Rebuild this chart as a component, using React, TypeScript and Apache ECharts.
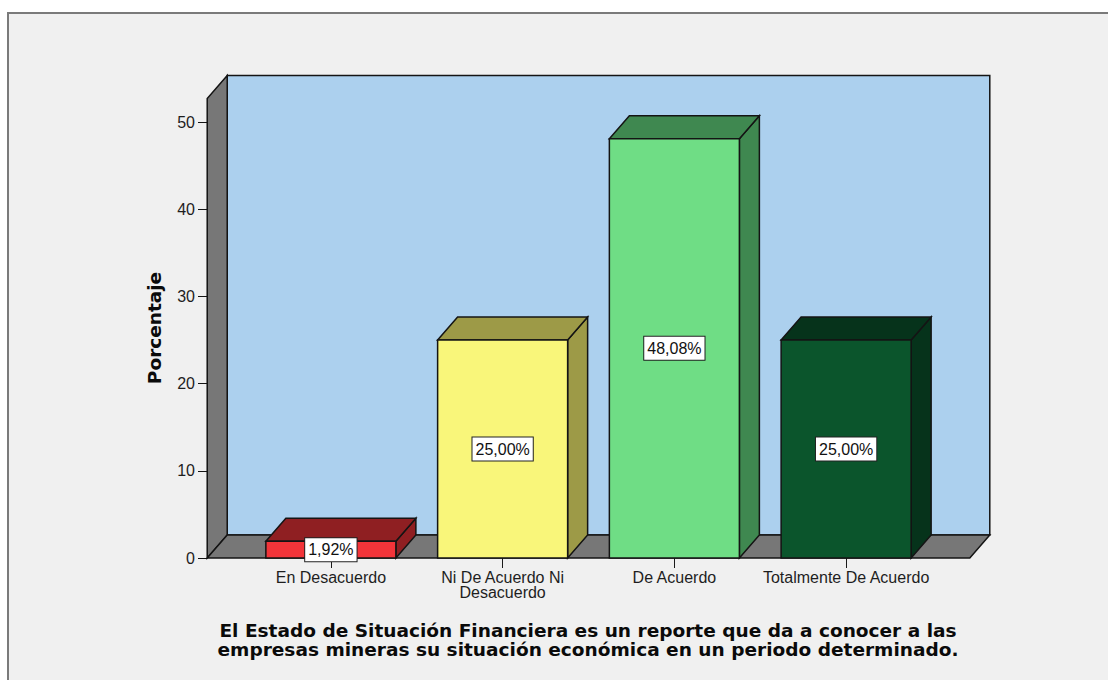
import React, { useEffect, useRef } from "react";
import * as echarts from "echarts";

const categories = [
  "En Desacuerdo",
  "Ni De Acuerdo Ni\nDesacuerdo",
  "De Acuerdo",
  "Totalmente De Acuerdo",
];
const values = [1.92, 25.0, 48.08, 25.0];
const frontColors = ["#f23439", "#f9f67a", "#6fdd85", "#0b552c"];
const shadeColors = ["#8f1f22", "#9d9a47", "#3f8850", "#06331b"];
const yTicks = [0, 10, 20, 30, 40, 50];
const wallTopValue = 52.7;
const titleLines = [
  "El Estado de Situación Financiera es un reporte que da a conocer a las",
  "empresas mineras su situación económica en un periodo determinado.",
];
const yName = "Porcentaje";

const DX = 20;
const DY = -23;
const BAR_RATIO = 0.757;
const SIDE_PAD = 0.22;

function fmt(v: number) {
  return v.toFixed(2).replace(".", ",") + "%";
}

export default function App() {
  const ref = useRef<HTMLDivElement>(null);
  useEffect(() => {
    if (!ref.current) return;
    const chart = echarts.init(ref.current, undefined, { renderer: "svg" });
    const edge = "#141414";
    chart.setOption({
      animation: false,
      backgroundColor: "transparent",
      graphic: [
        {
          type: "rect",
          z: -10,
          shape: { x: 8, y: 13, width: 1110, height: 690 },
          style: { fill: "#f0f0f0", stroke: "#7a7a7a", lineWidth: 2 },
        },
        ...titleLines.map((t, k) => ({
          type: "text",
          z: 10,
          x: 588,
          y: 622 + k * 18.5,
          scaleX: 1.03,
          style: {
            text: t,
            align: "center",
            verticalAlign: "top",
            font: 'bold 18px "DejaVu Sans"',
            fill: "#0a0a0a",
          },
        })),
        {
          type: "text",
          z: 10,
          x: 154,
          y: 328,
          rotation: Math.PI / 2,
          style: {
            text: yName,
            align: "center",
            verticalAlign: "middle",
            font: 'bold 18.5px "DejaVu Sans"',
            fill: "#0a0a0a",
          },
        },
      ],
      grid: { left: 245, right: 176, top: 122, bottom: 122 },
      xAxis: {
        type: "category",
        data: categories,
        boundaryGap: true,
        axisLine: { show: false },
        axisTick: {
          show: true,
          alignWithLabel: true,
          length: 10,
          lineStyle: { color: "#1a1a1a", width: 1 },
        },
        axisLabel: {
          interval: 0,
          margin: 12,
          fontFamily: '"Liberation Sans", Arial',
          fontSize: 16,
          lineHeight: 15,
          color: "#1e1e1e",
        },
        splitLine: { show: false },
      },
      yAxis: {
        type: "value",
        min: 0,
        max: 50,
        interval: 10,
        offset: 38,
        axisLine: { show: true, lineStyle: { color: edge, width: 1 } },
        axisTick: { show: true, length: 9, lineStyle: { color: edge, width: 1 } },
        axisLabel: {
          margin: 12,
          fontFamily: '"Liberation Sans", Arial',
          fontSize: 16,
          color: "#1e1e1e",
          customValues: yTicks,
        },
        splitLine: { show: false },
      },
      series: [
        {
          type: "custom",
          z: 1,
          silent: true,
          data: [[0, 0]],
          renderItem: (params: any, api: any) => {
            const cs = params.coordSys;
            const band = api.size([1, 0])[0];
            const pad = band * SIDE_PAD;
            const left = cs.x - pad;
            const right = cs.x + cs.width + pad;
            const bottom = api.coord([0, 0])[1];
            const top = api.coord([0, wallTopValue])[1];
            const st = { stroke: edge, lineWidth: 1.5 };
            return {
              type: "group",
              children: [
                {
                  type: "rect",
                  shape: { x: left + DX, y: top + DY, width: right - left, height: bottom - top },
                  style: { fill: "#acd0ee", ...st },
                },
                {
                  type: "polygon",
                  shape: {
                    points: [
                      [left, bottom],
                      [left, top],
                      [left + DX, top + DY],
                      [left + DX, bottom + DY],
                    ],
                  },
                  style: { fill: "#777777", ...st },
                },
                {
                  type: "polygon",
                  shape: {
                    points: [
                      [left, bottom],
                      [left + DX, bottom + DY],
                      [right + DX, bottom + DY],
                      [right, bottom],
                    ],
                  },
                  style: { fill: "#777777", ...st },
                },
              ],
            };
          },
        },
        {
          type: "custom",
          z: 3,
          silent: true,
          data: values.map((v, i) => [i, v]),
          renderItem: (params: any, api: any) => {
            const i = api.value(0);
            const v = api.value(1);
            const base = api.coord([i, 0]);
            const tp = api.coord([i, v]);
            const bw = api.size([1, 0])[0] * BAR_RATIO;
            const x0 = base[0] - bw / 2;
            const x1 = base[0] + bw / 2;
            const yb = base[1];
            const yt = tp[1];
            const st = { stroke: edge, lineWidth: 1.5 };
            return {
              type: "group",
              children: [
                {
                  type: "polygon",
                  shape: {
                    points: [
                      [x1, yt],
                      [x1 + DX, yt + DY],
                      [x1 + DX, yb + DY],
                      [x1, yb],
                    ],
                  },
                  style: { fill: shadeColors[i], ...st },
                },
                {
                  type: "polygon",
                  shape: {
                    points: [
                      [x0, yt],
                      [x0 + DX, yt + DY],
                      [x1 + DX, yt + DY],
                      [x1, yt],
                    ],
                  },
                  style: { fill: shadeColors[i], ...st },
                },
                {
                  type: "rect",
                  shape: { x: x0, y: yt, width: bw, height: yb - yt },
                  style: { fill: frontColors[i], ...st },
                },
                {
                  type: "text",
                  style: {
                    text: fmt(v),
                    x: base[0],
                    y: (yt + yb) / 2,
                    align: "center",
                    verticalAlign: "middle",
                    font: '16px "Liberation Sans", Arial',
                    fill: "#111",
                    backgroundColor: "#ffffff",
                    borderColor: "#222",
                    borderWidth: 1,
                    padding: [4, 3, 3, 3],
                  },
                },
              ],
            };
          },
        },
      ],
    });
    return () => chart.dispose();
  }, []);
  return (
    <div
      ref={ref}
      style={{ position: "absolute", left: 0, top: 0, width: 1108, height: 680 }}
    />
  );
}
